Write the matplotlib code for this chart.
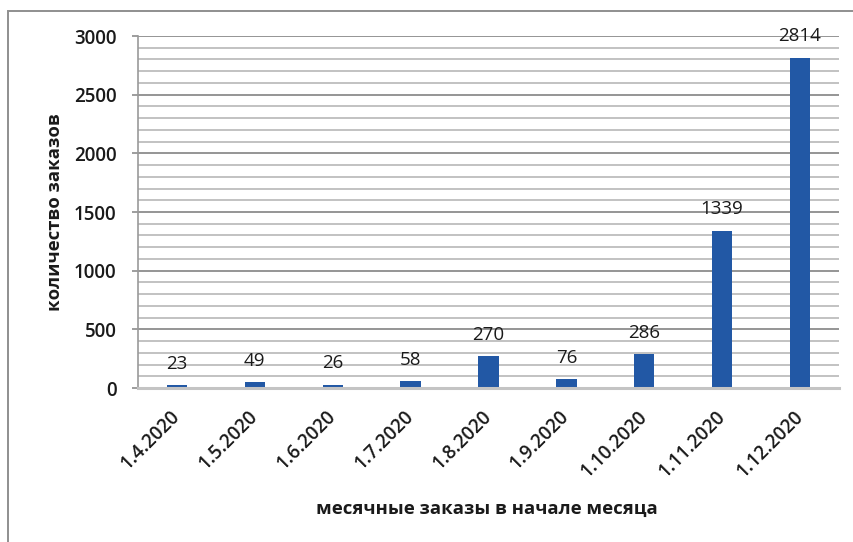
import matplotlib
matplotlib.use("Agg")
import matplotlib.pyplot as plt
from matplotlib.patches import Rectangle
from matplotlib.ticker import MultipleLocator

categories = ["1.4.2020", "1.5.2020", "1.6.2020", "1.7.2020", "1.8.2020",
              "1.9.2020", "1.10.2020", "1.11.2020", "1.12.2020"]
orders = [23, 49, 26, 58, 270, 76, 286, 1339, 2814]

plt.rcParams["font.family"] = ["Open Sans", "DejaVu Sans"]

W, H = 854, 542
fig = plt.figure(figsize=(W / 100, H / 100), dpi=100)

# outer chart frame (left and top edges visible)
fig.patches.append(Rectangle((8 / W, -0.05), 1.1, 1 - 11 / H + 0.05,
                             transform=fig.transFigure, fill=False,
                             edgecolor="#8f8f8f", linewidth=1.4, zorder=0))

ax = fig.add_axes([138 / W, 1 - 388 / H, (839 - 138) / W, (388 - 36) / H])

x = range(len(categories))
ax.bar(x, orders, width=0.26, color="#2258a5", zorder=3)

ax.set_xlim(-0.5, len(categories) - 0.5)
ax.set_ylim(0, 3000)
ax.yaxis.set_major_locator(MultipleLocator(500))
ax.yaxis.set_minor_locator(MultipleLocator(100))
ax.grid(axis="y", which="major", color="#8c8c8c", linewidth=1.3, zorder=0)
ax.grid(axis="y", which="minor", color="#b8b8b8", linewidth=1.2, zorder=0)

for side in ("top", "right"):
    ax.spines[side].set_visible(False)
ax.spines["left"].set_color("#9a9a9a")
ax.spines["left"].set_linewidth(1.2)
ax.spines["bottom"].set_color("#c4c4c4")
ax.spines["bottom"].set_linewidth(2.2)
ax.spines["bottom"].set_zorder(4)

FS = 13.5
ax.tick_params(axis="y", which="major", length=4.5, width=1.2, color="#8c8c8c",
               pad=11, labelsize=FS, labelcolor="#1a1a1a")
ax.tick_params(axis="y", which="minor", length=0)
ax.tick_params(axis="x", length=0, pad=18.5, labelsize=FS, labelcolor="#1a1a1a")

ax.set_xticks(list(x))
ax.set_xticklabels(categories, rotation=45, ha="right", va="center",
                   rotation_mode="anchor", fontweight="semibold")
for lbl in ax.get_yticklabels():
    lbl.set_fontweight("semibold")

for xi, v in zip(x, orders):
    ax.annotate(str(v), (xi, v), xytext=(0, 9), textcoords="offset points",
                ha="center", va="bottom", fontsize=FS, color="#1a1a1a")

ax.set_xlabel("месячные заказы в начале месяца", fontsize=13.3, fontweight="bold",
              color="#1a1a1a", va="center")
ax.xaxis.set_label_coords((487 - 138) / (839 - 138), -(509 - 388) / (388 - 36))
ax.set_ylabel("количество заказов", fontsize=13.3, fontweight="bold",
              color="#1a1a1a", va="center")
ax.yaxis.set_label_coords(-(138 - 55) / (839 - 138), (388 - 212) / (388 - 36))

fig.savefig("out.png", dpi=100)
